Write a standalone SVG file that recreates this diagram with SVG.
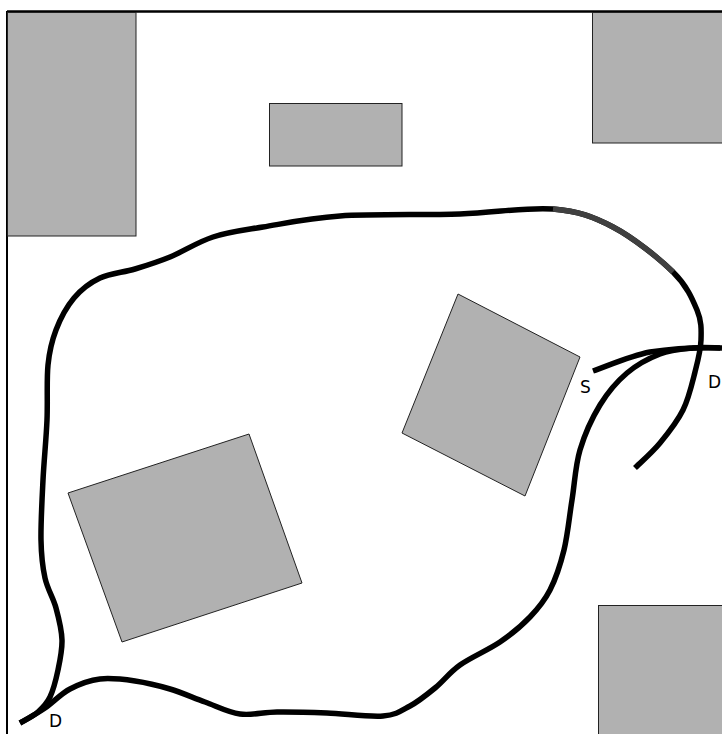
<svg xmlns="http://www.w3.org/2000/svg" width="722" height="734" viewBox="0 0 722 734">
<style>
.obs{fill:#b1b1b1;stroke:#222;stroke-width:1}
.path{fill:none;stroke:#000;stroke-width:5.5;stroke-linecap:butt;stroke-linejoin:round}
.lbl{font-family:"DejaVu Sans",sans-serif;font-size:17px;fill:#000}
</style>
<rect width="722" height="734" fill="#fff"/>
<g id="frame">
<line x1="7" y1="11.5" x2="722" y2="11.5" stroke="#000" stroke-width="2.5"/>
<line x1="7" y1="11" x2="7" y2="734" stroke="#000" stroke-width="2"/>
</g>
<g id="obstacle-top-left"><rect class="obs" x="7.5" y="12.5" width="128.5" height="223.5"/></g>
<g id="obstacle-top-mid"><rect class="obs" x="269.5" y="103.5" width="132.5" height="62.5"/></g>
<g id="obstacle-top-right"><rect class="obs" x="592.5" y="12.5" width="131" height="130.5"/></g>
<g id="obstacle-bottom-right"><rect class="obs" x="598.5" y="605.5" width="125" height="130"/></g>
<g id="obstacle-small-square"><polygon class="obs" points="458,294 580,357 525,496 402,433"/></g>
<g id="obstacle-big-square"><polygon class="obs" points="68,493 249,434 302,583 122,642"/></g>
<g id="connectors">
<path class="path" d="M20,723 C24.7,720.3 33.3,716.2 38,712 C42.7,707.8 46.7,704 50,697 C53.3,690 56,679.5 58,670 C60,660.5 62.3,650.3 62,640 C61.7,629.7 58.8,618.3 56,608 C53.2,597.7 47.5,589.3 45,578 C42.5,566.7 41.3,556.3 41,540 C40.7,523.7 42,500 43,480 C44,460 46.2,439.2 47,420 C47.8,400.8 46.5,380 48,365 C49.5,350 51.7,341.2 56,330 C60.3,318.8 66.7,306.7 74,298 C81.3,289.3 89.8,282.8 100,278 C110.2,273.2 123.3,272.5 135,269 C146.7,265.5 157,262.3 170,257 C183,251.7 197.5,242 213,237 C228.5,232 241.8,230.5 263,227 C284.2,223.5 307.2,218.2 340,216 C372.8,213.8 424.5,215.2 460,214 C495.5,212.8 527.5,206.8 553,209 C578.5,211.2 593,216.5 613,227 C633,237.5 659,258.2 673,272 C687,285.8 692.3,298.7 697,310 C701.7,321.3 701.3,329.7 701,340 C700.7,350.3 698,360.3 695,372 C692,383.7 688.8,398.2 683,410 C677.2,421.8 668,433.3 660,443 C652,452.7 639.2,463.8 635,468"/>
<path d="M553,209 C578.5,211.2 593,216.5 613,227 C633,237.5 659,258.2 673,272" fill="none" stroke="#404040" stroke-width="5.5"/>
<path class="path" d="M20,723 C25.8,719.7 37,713.5 45,708 C53,702.5 60.8,693.8 70,689 C79.2,684.2 89.2,680.3 100,679 C110.8,677.7 123.3,679.3 135,681 C146.7,682.7 158.3,685.5 170,689 C181.7,692.5 193.3,697.8 205,702 C216.7,706.2 228,712.3 240,714 C252,715.7 262.5,712.2 277,712 C291.5,711.8 309.3,712.3 327,713 C344.7,713.7 369.2,717.2 383,716 C396.8,714.8 401.3,710.7 410,706 C418.7,701.3 426.7,694.8 435,688 C443.3,681.2 449.2,672.7 460,665 C470.8,657.3 488.3,650 500,642 C511.7,634 521.7,625.7 530,617 C538.3,608.3 544.3,601.2 550,590 C555.7,578.8 560.3,565 564,550 C567.7,535 569.3,516.7 572,500 C574.7,483.3 575.3,465.8 580,450 C584.7,434.2 592.2,417.8 600,405 C607.8,392.2 617,381.5 627,373 C637,364.5 649,358.2 660,354 C671,349.8 683,349 693,348 C703,347 715.5,348 720,348"/>
<path class="path" d="M593,371 C610,365 630,356 650,352 C670,349 690,347 722,348"/>
</g>
<g id="label-S"><text class="lbl" x="580" y="393">S</text></g>
<g id="label-D-right"><text class="lbl" x="708" y="388">D</text></g>
<g id="label-D-bottom"><text class="lbl" x="49" y="727">D</text></g>
</svg>
